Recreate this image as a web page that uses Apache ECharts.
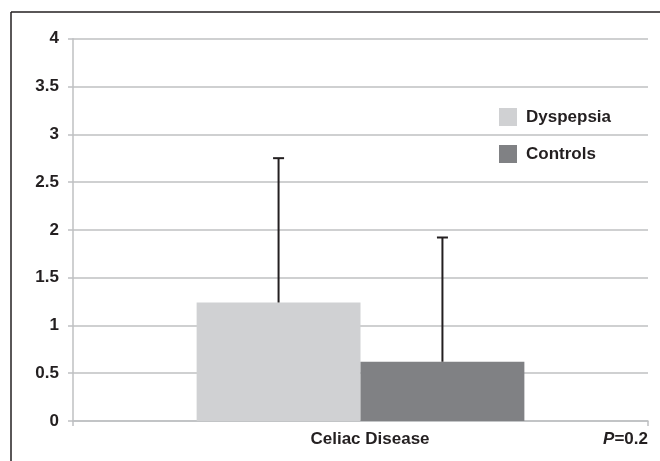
<!DOCTYPE html>
<html>
<head>
<meta charset="utf-8">
<script src="https://cdn.jsdelivr.net/npm/echarts@6/dist/echarts.min.js"></script>
<style>html,body{margin:0;padding:0;background:#fff;}#c{width:660px;height:461px;}</style>
</head>
<body>
<div id="c"></div>
<script>
var categories = ['Celiac Disease'];
var seriesNames = ['Dyspepsia', 'Controls'];
var dyspepsiaMean = [1.24];
var dyspepsiaUpper = [2.75];
var controlsMean = [0.62];
var controlsUpper = [1.92];
var yTicks = { min: 0, max: 4, interval: 0.5 };
var pText = '=0.2';

var textColor = '#231f20';
var gridColor = '#bfc0c2';
var font = 'Liberation Sans, Arial, sans-serif';
var chart = echarts.init(document.getElementById('c'), null, { renderer: 'canvas' });

function errorSeries(means, uppers, sign) {
  return {
    type: 'custom',
    silent: true,
    z: 5,
    renderItem: function (params, api) {
      var ci = api.value(0);
      var base = api.coord([ci, api.value(1)]);
      var top = api.coord([ci, api.value(2)]);
      var band = api.size([1, 0])[0];
      var x = base[0] + sign * band * 0.1425;
      var cap = 5.5;
      return {
        type: 'group',
        children: [
          { type: 'line', shape: { x1: x, y1: base[1], x2: x, y2: top[1] }, style: { stroke: textColor, lineWidth: 2 } },
          { type: 'line', shape: { x1: x - cap, y1: top[1], x2: x + cap, y2: top[1] }, style: { stroke: textColor, lineWidth: 2 } }
        ]
      };
    },
    data: categories.map(function (c, i) { return [i, means[i], uppers[i]]; })
  };
}

chart.setOption({
  animation: false,
  textStyle: { fontFamily: font },
  grid: { left: 73, right: 12, top: 38.7, bottom: 40 },
  legend: {
    orient: 'vertical',
    left: 494, top: 103,
    itemWidth: 18, itemHeight: 18, itemGap: 19,
    icon: 'rect',
    data: seriesNames,
    textStyle: { color: textColor, fontSize: 17, fontWeight: 'bold', padding: [0, 0, 0, 4] }
  },
  xAxis: {
    type: 'category',
    data: categories,
    axisLine: { lineStyle: { color: gridColor, width: 1.5 } },
    axisTick: { show: true, length: 5, lineStyle: { color: gridColor, width: 1.5 } },
    axisLabel: { color: textColor, fontSize: 17, fontWeight: 'bold', margin: 10, padding: [0, 0, 0, 19] }
  },
  yAxis: {
    type: 'value',
    min: yTicks.min, max: yTicks.max, interval: yTicks.interval,
    axisLine: { show: true, lineStyle: { color: gridColor, width: 1.5 } },
    axisTick: { show: true, length: 5, lineStyle: { color: gridColor, width: 1.5 } },
    splitLine: { lineStyle: { color: gridColor, width: 1.5 } },
    axisLabel: { color: textColor, fontSize: 17, fontWeight: 'bold', margin: 14 }
  },
  series: [
    { name: seriesNames[0], type: 'bar', data: dyspepsiaMean, barGap: '0%', barCategoryGap: '43%', itemStyle: { color: '#d0d1d3' } },
    { name: seriesNames[1], type: 'bar', data: controlsMean, barGap: '0%', barCategoryGap: '43%', itemStyle: { color: '#808184' } },
    errorSeries(dyspepsiaMean, dyspepsiaUpper, -1),
    errorSeries(controlsMean, controlsUpper, 1)
  ],
  graphic: [
    { type: 'line', shape: { x1: 11, y1: 12, x2: 660, y2: 12 }, style: { stroke: textColor, lineWidth: 1.5 } },
    { type: 'line', shape: { x1: 11, y1: 12, x2: 11, y2: 461 }, style: { stroke: textColor, lineWidth: 1.5 } },
    {
      type: 'text', right: 12, top: 431,
      style: {
        text: '{i|P}' + pText,
        font: 'bold 17px ' + font,
        fill: textColor,
        rich: { i: { fontStyle: 'italic', fontWeight: 'bold', fontSize: 17, fontFamily: font, fill: textColor } }
      }
    }
  ]
});
</script>
</body>
</html>
